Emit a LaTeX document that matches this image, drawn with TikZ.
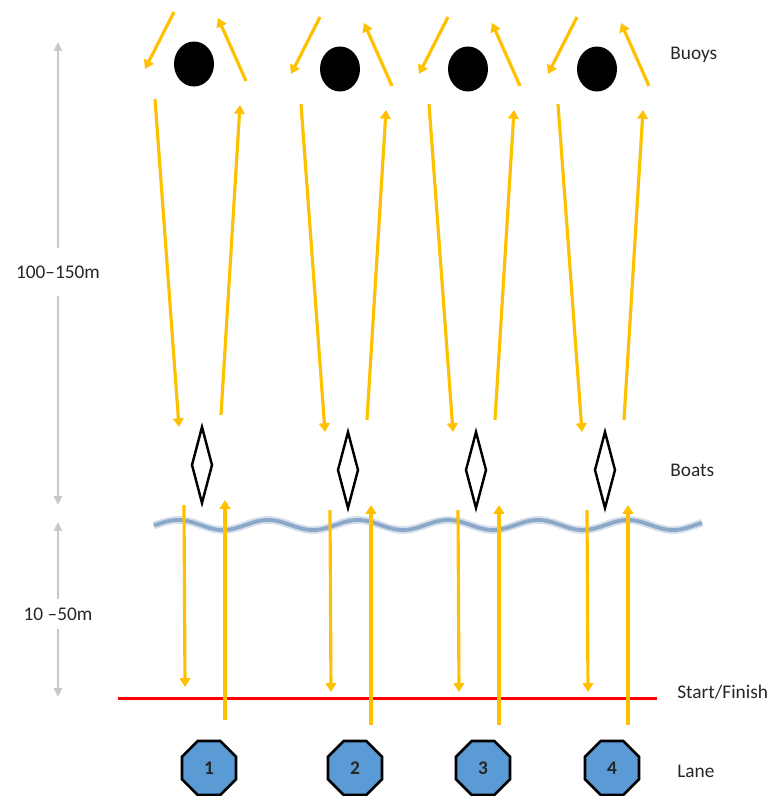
\documentclass[tikz,border=0pt]{standalone}
\usepackage{fontspec}
\setmainfont{Carlito}
\usepackage{tikz}
\usetikzlibrary{arrows.meta}
\usetikzlibrary{shapes.geometric}
\definecolor{gold}{RGB}{255,192,0}
\definecolor{lanefill}{RGB}{91,155,213}
\definecolor{wavecol}{RGB}{120,152,190}
\definecolor{dimgrey}{RGB}{200,200,200}
\definecolor{txt}{RGB}{38,38,38}

\begin{document}
\begin{tikzpicture}[x=0.02cm,y=-0.02cm,
  route/.style={draw=gold,line width=1.8pt,-{Triangle[length=5pt,width=6pt]}},
  dim/.style={draw=dimgrey,line width=1.2pt,-{Triangle[length=5pt,width=4.5pt]}},
  buoy/.style={ellipse,fill=black,minimum width=0.8cm,minimum height=0.9cm,inner sep=0},
  boat/.style={diamond,draw=black,line width=1.4pt,fill=white,minimum width=0.42cm,minimum height=1.54cm,inner sep=0},
  lane/.style={regular polygon,regular polygon sides=8,draw=black,line width=1.5pt,fill=lanefill,minimum size=1.17cm,inner sep=0,text=txt,font=\fontsize{11}{13}\selectfont\bfseries},
  lbl/.style={anchor=west,inner sep=0,text=txt,font=\fontsize{11}{13}\selectfont}]
\useasboundingbox (0,0) rectangle (780,796);
% water
\draw[wavecol!30,line width=4.4pt] plot[domain=154:702,samples=240] (\x,{525-5*cos((\x-358)*4)});
\draw[wavecol!85,line width=2.2pt] plot[domain=154:702,samples=240] (\x,{525-5*cos((\x-358)*4)});
% start/finish
\coordinate (sfL) at (118,698);
\coordinate (sfR) at (657,698);
\draw[red,line width=1.7pt] (sfL) -- (sfR);
% distances
\node[lbl,anchor=center,inner ysep=0.34cm] (dimA) at (58,272) {100–150m};
\coordinate (dimAt) at (58,42); \coordinate (dimAb) at (58,505);
\draw[dim] (dimA) -- (dimAt); \draw[dim] (dimA) -- (dimAb);
\node[lbl,anchor=center,inner ysep=0.16cm] (dimB) at (58,614) {10 –50m};
\coordinate (dimBt) at (58,522); \coordinate (dimBb) at (58,697);
\draw[dim] (dimB) -- (dimBt); \draw[dim] (dimB) -- (dimBb);
% lanes
\foreach \b/\dy/\n in {194/-5/1,340/0/2,468/0/3,597/0/4}{
  \node[buoy] (buoy\n) at (\b,69+\dy) {};
  \node[boat] (boat\n) at (\b+8,470+\dy) {};
  \node[lane] (lane\n) at (\b+15,768) {\n};
  \coordinate (ra\n) at (\b-20,17+\dy); \coordinate (rb\n) at (\b-49,74+\dy);%round buoy
  \coordinate (rc\n) at (\b+52,86+\dy); \coordinate (rd\n) at (\b+24,23+\dy);
  \coordinate (oa\n) at (\b-39,104+\dy); \coordinate (ob\n) at (\b-15,432+\dy);%out and back
  \coordinate (oc\n) at (\b+27,420+\dy); \coordinate (od\n) at (\b+46,110+\dy);
  \coordinate (sa\n) at (\b-10,510+\dy); \coordinate (sb\n) at (\b-9,692+\dy);%start leg
  \coordinate (sc\n) at (\b+31,725+\dy); \coordinate (sd\n) at (\b+31,505+\dy);
  \draw[route] (ra\n) -- (rb\n);
  \draw[route] (rc\n) -- (rd\n);
  \draw[route] (oa\n) -- (ob\n);
  \draw[route] (oc\n) -- (od\n);
  \draw[route] (sa\n) -- (sb\n);
  \draw[route] (sc\n) -- (sd\n);
}
% legend
\node[lbl] (buoys) at (670,55) {Buoys};
\node[lbl] (boats) at (670,470) {Boats};
\node[lbl] (start) at (677,692) {Start/Finish};
\node[lbl] (lanes) at (677,771) {Lane};
\end{tikzpicture}
\end{document}
